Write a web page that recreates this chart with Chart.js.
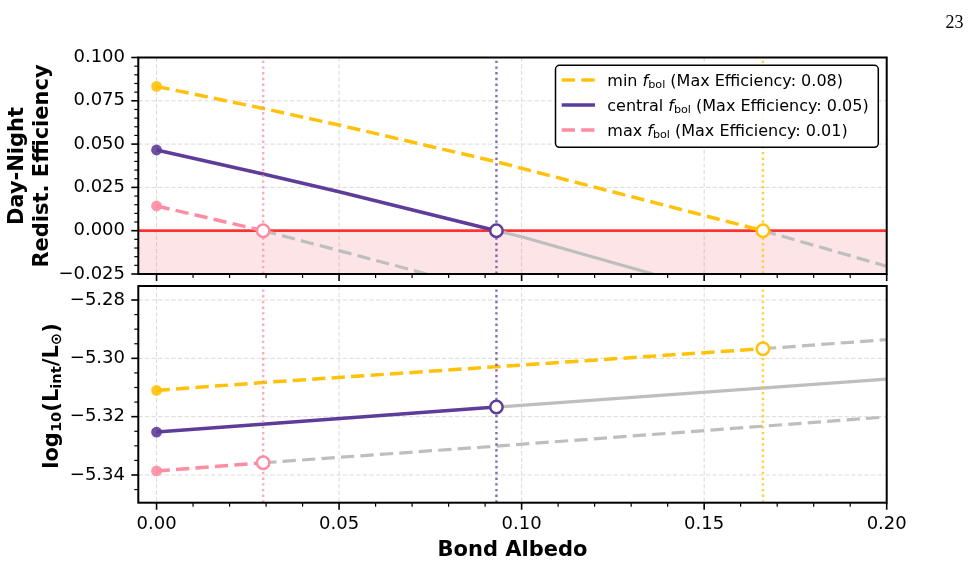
<!DOCTYPE html>
<html>
<head>
<meta charset="utf-8">
<script src="https://cdn.jsdelivr.net/npm/chart.js@4.4.3/dist/chart.umd.min.js"></script>
<style>
  html, body { margin: 0; padding: 0; background: #fff; }
  body { width: 973px; height: 563px; position: relative; overflow: hidden; }
  canvas { position: absolute; left: 0; }
  #eff-chart { top: 0; }
  #lum-chart { top: 280px; }
</style>
</head>
<body>
<canvas id="eff-chart" width="973" height="285"></canvas>
<canvas id="lum-chart" width="973" height="283"></canvas>
<script>
// ---- data ----
const xTicks = [0, 0.05, 0.1, 0.15, 0.2];
const yTicksTop = [-0.025, 0, 0.025, 0.05, 0.075, 0.1];
const yTicksBottom = [-5.34, -5.32, -5.30, -5.28];

const seriesNames = ["min", "central", "max"];
// albedo where the efficiency reaches zero (dotted markers)
const zeroAlbedo = [0.1661, 0.0931, 0.0292];

// top panel: day-night redistribution efficiency
const effMinX = [0, 0.0292, 0.05, 0.0931, 0.1661];
const effMinY = [0.0833, 0.0706, 0.0610, 0.0398, 0];
const effMinTailX = [0.1661, 0.2];
const effMinTailY = [0, -0.0205];

const effCenX = [0, 0.0292, 0.05, 0.0931];
const effCenY = [0.0466, 0.0327, 0.0225, 0];
const effCenTailX = [0.0931, 0.1, 0.136];
const effCenTailY = [0, -0.0035, -0.025];

const effMaxX = [0, 0.0292];
const effMaxY = [0.01425, 0];
const effMaxTailX = [0.0292, 0.05, 0.074];
const effMaxTailY = [0, -0.0115, -0.025];

// bottom panel: log10(L_int / L_sun)
const lumMinX = [0, 0.0292, 0.1661];
const lumMinY = [-5.3110, -5.3083, -5.2967];
const lumMinTailX = [0.1661, 0.2];
const lumMinTailY = [-5.2967, -5.2936];

const lumCenX = [0, 0.0931];
const lumCenY = [-5.3253, -5.3167];
const lumCenTailX = [0.0931, 0.2];
const lumCenTailY = [-5.3167, -5.3071];

const lumMaxX = [0, 0.0292];
const lumMaxY = [-5.3386, -5.3358];
const lumMaxTailX = [0.0292, 0.0931, 0.2];
const lumMaxTailY = [-5.3358, -5.3301, -5.3201];

// ---- styling ----
const X_MIN = -0.005, X_MAX = 0.2;
const COLORS = ["#FFC20A", "#5E3C99", "#FF8DA1"];
const DASH = [[13.3, 6.2], [], [13.3, 6.2]];
const GRAY = "#BEBEBE";
const FONT = "'DejaVu Sans', sans-serif";

const pts = (xs, ys) => xs.map((x, i) => ({ x, y: ys[i] }));
function withAlpha(hex, a) {
  const n = parseInt(hex.slice(1), 16);
  return `rgba(${n >> 16},${(n >> 8) & 255},${n & 255},${a})`;
}
function fmt(v, d) {
  const s = Math.abs(v) < 1e-12 ? (0).toFixed(d) : v.toFixed(d);
  return s.replace("-", "\u2212");
}

function seriesSets(mains, tails, yMin, yMax) {
  const sets = [];
  mains.forEach((m, i) => {
    const line = pts(m[0], m[1]);
    sets.push({ data: pts(tails[i][0], tails[i][1]), showLine: true, borderColor: GRAY,
      borderWidth: 3.2, borderDash: DASH[i], pointRadius: 0, order: 50 });
    sets.push({ data: line, showLine: true, borderColor: COLORS[i], borderWidth: 3.5,
      borderDash: DASH[i], pointRadius: 0, order: 40 });
    sets.push({ data: pts([zeroAlbedo[i], zeroAlbedo[i]], [yMin, yMax]), showLine: true,
      borderColor: withAlpha(COLORS[i], 0.75), borderWidth: 2.4, borderDash: [2.4, 3.3],
      pointRadius: 0, order: 30 });
    sets.push({ data: [line[0]], showLine: false, pointRadius: 5.4, pointBorderWidth: 0,
      pointBackgroundColor: withAlpha(COLORS[i], 0.9), order: 20 });
    sets.push({ data: [line[line.length - 1]], showLine: false, pointRadius: 6.2,
      pointBackgroundColor: "#fff", pointBorderColor: COLORS[i], pointBorderWidth: 2.5, order: 10 });
  });
  return sets;
}

function drawTicks(ctx, a, x, y, yMin, yMax, yMinorStep, yMajorStep) {
  ctx.save();
  ctx.strokeStyle = "#000";
  ctx.setLineDash([]);
  // x ticks (major + minor every 0.01)
  for (let k = 0; k <= 20; k++) {
    const major = k % 5 === 0;
    const p = x.getPixelForValue(k * 0.01);
    ctx.lineWidth = major ? 1.6 : 1.2;
    ctx.beginPath(); ctx.moveTo(p, a.bottom); ctx.lineTo(p, a.bottom + (major ? 7 : 4)); ctx.stroke();
  }
  // y ticks
  const k0 = Math.ceil(yMin / yMinorStep - 1e-6), k1 = Math.floor(yMax / yMinorStep + 1e-6);
  for (let k = k0; k <= k1; k++) {
    const v = k * yMinorStep;
    const r = v / yMajorStep;
    const major = Math.abs(r - Math.round(r)) < 1e-6;
    const p = y.getPixelForValue(v);
    ctx.lineWidth = major ? 1.6 : 1.2;
    ctx.beginPath(); ctx.moveTo(a.left, p); ctx.lineTo(a.left - (major ? 7 : 4), p); ctx.stroke();
  }
  // frame
  ctx.lineWidth = 2;
  ctx.strokeRect(a.left, a.top, a.right - a.left, a.bottom - a.top);
  ctx.restore();
}

function drawPieces(ctx, pieces, cx, base) {
  let total = 0;
  pieces.forEach(p => { ctx.font = p[1]; total += ctx.measureText(p[0]).width; });
  let tx = cx - total / 2;
  pieces.forEach(p => { ctx.font = p[1]; ctx.fillText(p[0], tx, base + p[2]); tx += ctx.measureText(p[0]).width; });
}

function drawLegend(ctx) {
  const bx = 555.5, by = 65.3, bw = 322.8, bh = 82;
  const effStart = [effMinY[0], effCenY[0], effMaxY[0]];
  ctx.save();
  ctx.beginPath();
  ctx.roundRect(bx, by, bw, bh, 4);
  ctx.fillStyle = "rgba(255,255,255,0.92)";
  ctx.fill();
  ctx.lineWidth = 1.5; ctx.strokeStyle = "#000"; ctx.stroke();
  seriesNames.forEach((name, i) => {
    const ry = 80 + i * 25;
    ctx.setLineDash(DASH[i]); ctx.strokeStyle = COLORS[i]; ctx.lineWidth = 3.5;
    ctx.beginPath(); ctx.moveTo(561.7, ry); ctx.lineTo(595, ry); ctx.stroke();
    ctx.setLineDash([]);
    ctx.fillStyle = "#000"; ctx.textAlign = "left"; ctx.textBaseline = "alphabetic";
    let tx = 607.3;
    const base = ry + 5.6;
    const parts = [
      [name + " ", `16px ${FONT}`, 0],
      ["f", `italic 16px ${FONT}`, 0],
      ["bol", `11.2px ${FONT}`, 2.8],
      [" (Max Efficiency: " + effStart[i].toFixed(2) + ")", `16px ${FONT}`, 0],
    ];
    parts.forEach(([t, f, dy]) => { ctx.font = f; ctx.fillText(t, tx, base + dy); tx += ctx.measureText(t).width; });
  });
  ctx.restore();
}

function makeDecor(panel) {
  const top = panel === "top";
  const yTicks = top ? yTicksTop : yTicksBottom;
  return {
    id: "decor_" + panel,
    beforeDatasetsDraw(chart) {
      const { ctx, chartArea: a, scales: { x, y } } = chart;
      ctx.save();
      ctx.strokeStyle = "#dadada"; ctx.lineWidth = 1; ctx.setLineDash([4.4, 2.2]);
      ctx.beginPath();
      xTicks.forEach(v => { const p = x.getPixelForValue(v); ctx.moveTo(p, a.top); ctx.lineTo(p, a.bottom); });
      yTicks.forEach(v => { const p = y.getPixelForValue(v); ctx.moveTo(a.left, p); ctx.lineTo(a.right, p); });
      ctx.stroke();
      ctx.restore();
    },
    afterDraw(chart) {
      const { ctx, chartArea: a, scales: { x, y } } = chart;
      drawTicks(ctx, a, x, y, y.min, y.max, 0.005, top ? 0.025 : 0.02);
      ctx.save();
      ctx.fillStyle = "#000";
      ctx.textAlign = "center"; ctx.textBaseline = "alphabetic";
      const bold = `bold 21px ${FONT}`, sub = `bold 14.7px ${FONT}`;
      if (top) {
        ctx.font = bold;
        [["Day-Night", 22.6], ["Redist. Efficiency", 47.6]].forEach(([t, bx]) => {
          ctx.save(); ctx.translate(bx, 166); ctx.rotate(-Math.PI / 2); ctx.fillText(t, 0, 0); ctx.restore();
        });
        drawLegend(ctx);
        ctx.font = "18px 'Liberation Serif', serif";
        ctx.textAlign = "right";
        ctx.fillText("23", 963.5, 28);
      } else {
        ctx.save();
        ctx.translate(57.5, 116); ctx.rotate(-Math.PI / 2);
        ctx.textAlign = "left";
        drawPieces(ctx, [["log", bold, 0], ["10", sub, 3.5], ["(L", bold, 0], ["int", sub, 3.5],
          ["/L", bold, 0], ["\u2299", sub, 3.5], [")", bold, 0]], 0, 0);
        ctx.restore();
        ctx.font = bold; ctx.textAlign = "center";
        ctx.fillText("Bond Albedo", (a.left + a.right) / 2, 275.5);
      }
      ctx.restore();
    },
  };
}

// keep the plot area where the layout padding puts it
function noLabelPadding(s) {
  s.paddingTop = 0; s.paddingBottom = 0; s.paddingLeft = 0; s.paddingRight = 0;
}

function makeChart(id, datasets, yMin, yMax, yTicks, digits, showX, padding, panel) {
  const tickFont = { family: FONT, size: 18 };
  return new Chart(document.getElementById(id), {
    type: "scatter",
    data: { datasets },
    options: {
      responsive: false,
      animation: false,
      events: [],
      layout: { padding, autoPadding: false },
      plugins: { legend: { display: false }, tooltip: { enabled: false } },
      scales: {
        x: {
          type: "linear", min: X_MIN, max: X_MAX, display: showX,
          grid: { display: false, drawTicks: false }, border: { display: false },
          afterBuildTicks: s => { s.ticks = xTicks.map(v => ({ value: v })); },
          afterFit: s => { s.height = showX ? 60.3 : 0; noLabelPadding(s); },
          ticks: { autoSkip: false, maxRotation: 0, padding: 11, color: "#000", font: tickFont,
            callback: v => fmt(v, 2) },
        },
        y: {
          type: "linear", min: yMin, max: yMax,
          grid: { display: false, drawTicks: false }, border: { display: false },
          afterBuildTicks: s => { s.ticks = yTicks.map(v => ({ value: v })); },
          afterFit: s => { s.width = 138.3; noLabelPadding(s); },
          ticks: { autoSkip: false, padding: 13.3, color: "#000", font: tickFont,
            callback: v => fmt(v, digits) },
        },
      },
    },
    plugins: [makeDecor(panel)],
  });
}

// top panel
const TOP_MIN = -0.025, TOP_MAX = 0.1;
const topSets = [{
  data: pts([X_MIN, X_MAX], [0, 0]), showLine: true, borderColor: "rgba(255,20,20,0.85)",
  borderWidth: 2.8, pointRadius: 0, fill: "start", backgroundColor: "rgba(240,40,60,0.12)", order: 60,
}].concat(seriesSets(
  [[effMinX, effMinY], [effCenX, effCenY], [effMaxX, effMaxY]],
  [[effMinTailX, effMinTailY], [effCenTailX, effCenTailY], [effMaxTailX, effMaxTailY]],
  TOP_MIN, TOP_MAX));
makeChart("eff-chart", topSets, TOP_MIN, TOP_MAX, yTicksTop, 3, false,
  { left: 0, top: 57.5, right: 86.3, bottom: 11 }, "top");

// bottom panel
const BOT_MIN = -5.3495, BOT_MAX = -5.2752;
const botSets = seriesSets(
  [[lumMinX, lumMinY], [lumCenX, lumCenY], [lumMaxX, lumMaxY]],
  [[lumMinTailX, lumMinTailY], [lumCenTailX, lumCenTailY], [lumMaxTailX, lumMaxTailY]],
  BOT_MIN, BOT_MAX);
makeChart("lum-chart", botSets, BOT_MIN, BOT_MAX, yTicksBottom, 2, true,
  { left: 0, top: 6, right: 86.3, bottom: 0 }, "bottom");
</script>
</body>
</html>
